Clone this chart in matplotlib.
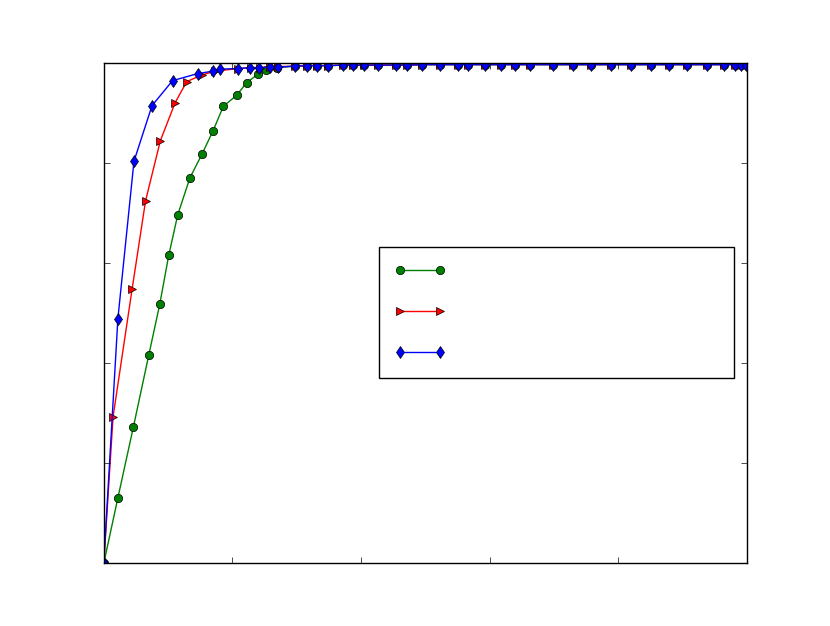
import matplotlib
matplotlib.use('Agg')
import matplotlib.pyplot as plt

plt.style.use('classic')

# shared tail of x samples (where the curves sit on the top)
x_tail = [29.8, 31.6, 33.2, 34.9, 37.2, 38.8, 40.5, 42.7, 45.5, 47.2, 49.5,
          52.3, 55.0, 56.7, 59.2, 61.7, 64.0, 66.2, 69.8, 72.9, 75.7, 78.8,
          81.9, 85.0, 87.9, 90.7, 93.8, 96.4, 98.1, 99.1, 99.8]
y_tail = [0.993, 0.994, 0.994, 0.994, 0.995, 0.995, 0.995, 0.995, 0.995, 0.995, 0.996,
          0.996, 0.996, 0.996, 0.996, 0.996, 0.996, 0.996, 0.996, 0.996, 0.996, 0.996,
          0.996, 0.996, 0.996, 0.996, 0.996, 0.996, 0.996, 0.996, 0.996]

x_green = [0, 2.2, 4.6, 7.0, 8.7, 10.1, 11.5, 13.4, 15.3, 17.0, 18.6, 20.7,
           22.2, 24.0, 25.3, 26.9]
y_green = [0, 0.131, 0.272, 0.416, 0.517, 0.615, 0.696, 0.770, 0.818, 0.864,
           0.913, 0.935, 0.960, 0.977, 0.985, 0.990]

x_red = [0, 1.45, 4.4, 6.5, 8.8, 11.1, 12.9, 15.2, 17.3, 20.8, 22.9, 24.3,
         25.9, 27.1]
y_red = [0, 0.293, 0.547, 0.724, 0.844, 0.920, 0.962, 0.975, 0.983, 0.988,
         0.990, 0.990, 0.991, 0.992]

x_blue = [0, 2.2, 4.7, 7.5, 10.7, 14.6, 17.0, 18.1, 20.9, 22.7, 24.2, 25.9, 27.1]
y_blue = [0, 0.489, 0.803, 0.914, 0.964, 0.978, 0.983, 0.987, 0.988, 0.990,
          0.990, 0.991, 0.991]

fig = plt.figure(figsize=(8.3, 6.26), dpi=100)
ax = fig.add_subplot(111)

ax.plot(x_green + x_tail, y_green + y_tail, 'o-', color='green', label=' ')
ax.plot(x_red + x_tail, y_red + y_tail, '>-', color='red', label=' ')
ax.plot(x_blue + x_tail, y_blue + y_tail, 'd-', color='blue', label=' ')

ax.set_xlim(0, 100)
ax.set_ylim(0, 1)
ax.set_xticks([0, 20, 40, 60, 80, 100])
ax.set_yticks([0, 0.2, 0.4, 0.6, 0.8, 1.0])
ax.tick_params(labelbottom=False, labelleft=False)

ax.legend(bbox_to_anchor=(0.428, 0.37, 0.552, 0.262), loc='upper left',
          mode='expand', numpoints=2, labelspacing=1.1, borderpad=0.75,
          borderaxespad=0, handlelength=2.6, fontsize=14.4)

plt.savefig('out.png', dpi=100)
